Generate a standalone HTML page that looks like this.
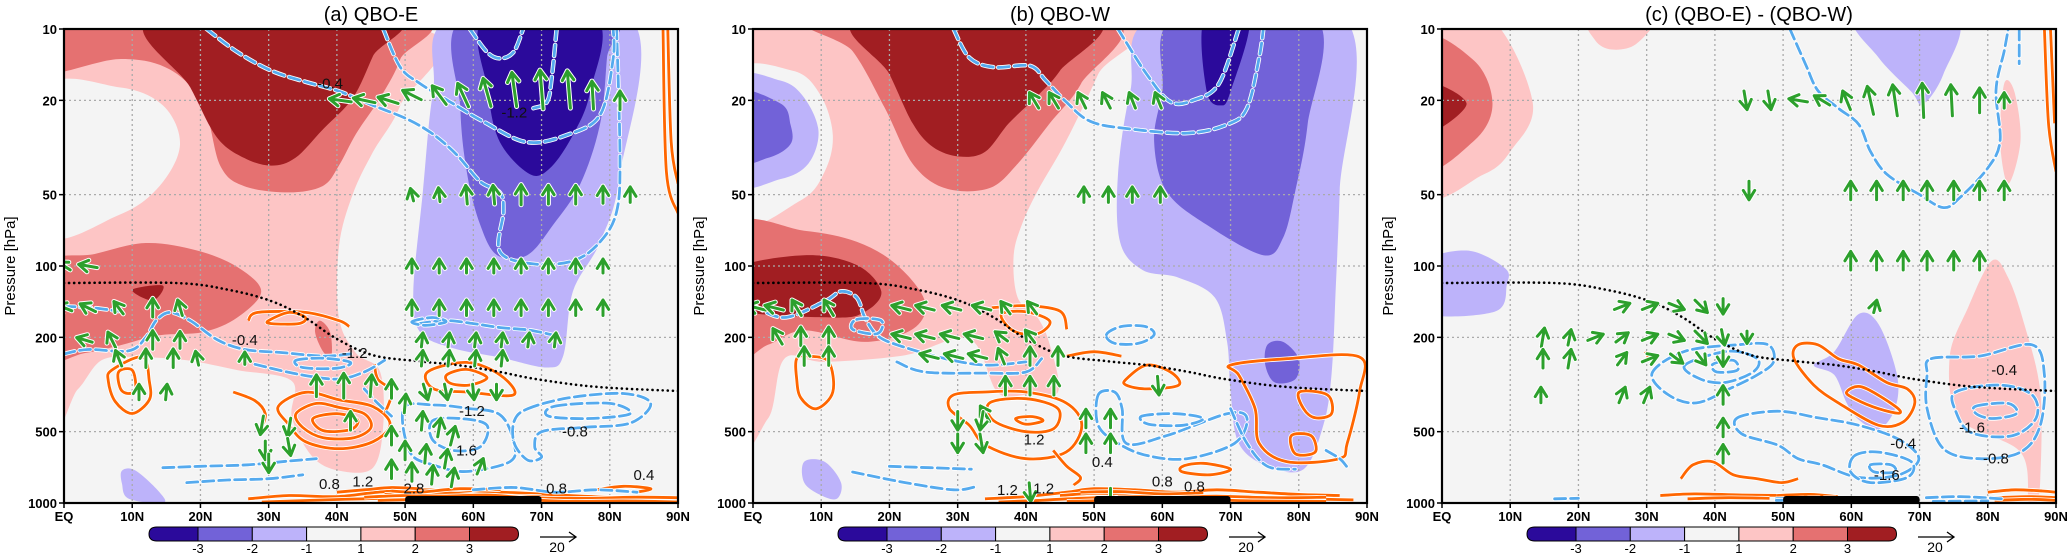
<!DOCTYPE html>
<html><head><meta charset="utf-8"><title>QBO composites</title>
<style>
html,body{margin:0;padding:0;background:#fff;}
svg{display:block;font-family:"Liberation Sans",sans-serif;}
</style></head>
<body>
<svg id="chart" width="2067" height="554" viewBox="0 0 2067 554" xmlns="http://www.w3.org/2000/svg">
<defs>
<clipPath id="clipA"><rect x="64" y="29" width="614" height="474"/></clipPath>
<clipPath id="clipB"><rect x="753" y="29" width="614" height="474"/></clipPath>
<clipPath id="clipC"><rect x="1442" y="29" width="614" height="474"/></clipPath>
</defs>
</svg>
<script>
// ---------- axes data ----------
const latTicks=[0,10,20,30,40,50,60,70,80,90];
const latTickLabels=['EQ','10N','20N','30N','40N','50N','60N','70N','80N','90N'];
const presTicks=[10,20,50,100,200,500,1000];
const presTickLabels=['10','20','50','100','200','500','1000'];
const panelTitles=['(a) QBO-E','(b) QBO-W','(c) (QBO-E) - (QBO-W)'];
const cbarLabels=['-3','-2','-1','1','2','3'];
const cbarColors=['#2b0a9b','#7262d8','#bdb3fa','#f4f4f4','#fdc5c5','#e57171','#a11e22'];
const tropLat=[0,16.4,24.1,30.5,35.3,40,45.3,51.8,57.7,63.6,69.5,78.3,90];
const tropPres=[118,118,126,141,165,203,238,252,262,279,301,324,337];
const sigBar=[50,70];

// ---------- filled contours [lat, hPa] ----------
const fillsA=[
 {c:4,pts:[[0,10],[52.3,10],[49.3,21],[45.3,33],[42.3,50],[40.3,83],[40.3,165],[42.8,233],[46.3,278],[46.8,465],[45.3,710],[40.3,730],[36.4,637],[33.4,437],[33.4,306],[25.4,275],[18,250],[10.5,242],[5.5,250],[2,332],[-2,405]]},
 {c:3,pts:[[-3,18.3],[8,17.6],[14.5,21],[17,30.7],[14,46],[8,61],[-3,72]]},
 {c:5,pts:[[-3,10],[-3,15.3],[8,13.4],[15.5,14.8],[20.4,21],[22.9,37.7],[26.4,46],[32.9,48.9],[37.9,46],[40.3,37.7],[42.8,27.7],[46.3,19.6],[49.3,13.4],[50.3,9]]},
 {c:6,pts:[[13,9],[18.5,17.6],[22.4,28.6],[26.4,35],[30.4,37.7],[33.9,35],[37.9,26.6],[42.3,19.6],[45.3,13],[47.8,9]]},
 {c:5,pts:[[-3,101],[4.5,89],[12,80],[19.5,86],[25.4,101],[28.9,128],[25.4,165],[20.4,190],[14,196],[8,217],[3,233],[-3,242]]},
 {c:6,pts:[[10,126],[14.5,121],[13,140]]},
 {c:5,pts:[[37.5,170],[39,190],[39.2,240],[38,230],[36.8,190]]},
 {c:2,pts:[[56.9,9],[54.1,18.4],[52.6,48.8],[51.2,128],[52.2,190],[57,222],[63.9,243],[70.8,268],[73.2,238],[74.6,128],[78.6,79],[81.5,41],[83,9]]},
 {c:1,pts:[[58.5,9],[58.1,21.6],[59.1,41],[61,67],[63.5,90],[67.9,90],[71.7,67],[75.7,45],[78.6,25],[79.6,13.2],[80.1,9]]},
 {c:0,pts:[[61.7,9],[62.2,18.5],[63.9,30],[68.3,41],[71.3,38.5],[74.6,28],[77.1,18.5],[77.9,9]]},
 {c:2,pts:[[8.5,730],[10.5,730],[14,900],[14.5,1000],[9.5,960],[8.5,830]]}
];
const fillsB=[
 {c:4,pts:[[-3,9],[54.1,9],[50.6,15.5],[45.9,29.7],[41.7,48.3],[39.4,67],[38.2,91],[38.8,136],[41.7,165],[43.5,215],[44.7,340],[40,350],[35.8,340],[31.7,203],[22.3,238],[10.5,254],[4.6,246],[2.2,440],[-3,455]]},
 {c:3,pts:[[-3,16],[5.8,15],[9.9,19],[11.7,28],[10.5,40],[6.9,53],[-3,65]]},
 {c:2,pts:[[-3,16.5],[4,16.5],[7.5,19.5],[9.6,27],[8.1,37],[4,43],[-3,44]]},
 {c:1,pts:[[-3,18.5],[4,20.6],[5.5,25.3],[5.5,30.6],[2.2,35],[-3,36]]},
 {c:5,pts:[[9.3,9],[14.6,12.4],[19.3,21.5],[23.4,37],[28.2,47],[34.6,47],[38.8,37],[43.5,25],[48.1,17],[52,9]]},
 {c:6,pts:[[15.8,9],[20,15.5],[23.4,25],[26.4,31.5],[30.2,34.5],[34,33],[37.5,25],[41.8,19],[45,15],[49.9,9]]},
 {c:5,pts:[[-3,69],[7.5,71],[15.2,79],[21.1,99],[25.2,141],[23.5,184],[16.4,209],[7.5,187],[2.2,215],[-3,238]]},
 {c:6,pts:[[-3,104],[7.5,90],[15.2,99],[18.8,128],[16.4,156],[11.7,165],[-3,151]]},
 {c:2,pts:[[58.8,9],[55.3,18.3],[53.5,41],[53.8,79],[57.1,104],[62.4,112],[67.7,136],[69.5,209],[70,340],[71.2,560],[75.4,700],[80.7,720],[83.6,470],[84.8,288],[85.4,128],[86,48],[86.6,9]]},
 {c:1,pts:[[61.8,9],[60,18.3],[58.8,29.6],[60.6,48.3],[66.5,67],[74.8,90],[77.7,76],[79.5,48],[81.3,25.3],[82.4,9]]},
 {c:0,pts:[[66.2,9],[66.5,18.3],[68.6,21],[70,18.3],[72.7,9]]},
 {c:1,pts:[[75.4,215],[77.7,209],[80,246],[79.5,300],[76.5,310],[75.1,262]]},
 {c:2,pts:[[7.5,670],[10.5,670],[12.9,820],[12.3,960],[9.9,925],[7.5,820]]}
];
const fillsC=[
 {c:4,pts:[[-3,9],[7.1,9],[13.3,20.4],[10.1,32.6],[6,41.2],[-3,47.7]]},
 {c:5,pts:[[-3,11.2],[4.7,13.6],[7.4,20.7],[4.7,29.6],[-3,38]]},
 {c:6,pts:[[-3,16.8],[3.6,20.7],[-3,28]]},
 {c:4,pts:[[21.6,9],[30.8,9],[28.4,11.6],[24.9,12.2],[22.5,11.2]]},
 {c:4,pts:[[80.6,95],[83,112],[85.4,178],[87.7,340],[87.7,790],[87.1,1000],[86,1000],[84.8,610],[75.9,440],[74.4,244],[77.1,150]]},
 {c:4,pts:[[82.4,17],[83.9,18.4],[84.8,29.6],[83,45],[81.8,29.6]]},
 {c:2,pts:[[60.8,9],[75.3,9],[73.5,15.5],[70.5,20.8],[68.8,18.4],[64,13.2]]},
 {c:2,pts:[[-3,98.6],[3.6,86],[9.2,102],[9.5,120],[7.7,156],[-3,156]]},
 {c:2,pts:[[61,160],[64,176],[66.7,288],[66.4,400],[64,488],[61,443],[59.3,378],[57.5,288],[54.5,262],[57.5,230]]}
];

// ---------- line contours [lat, hPa] ----------
const blueA=[
 {z:0,pts:[[20.9,10],[25.4,12.5],[30.4,15],[35.4,16.7],[40.3,18.3],[45.3,21],[50.3,24],[54.1,27.8],[57.6,34],[61,44],[63.9,49],[64.4,59],[63.9,87],[68.8,98],[74.7,95],[78.6,79],[81,59],[81.5,35],[81,10]]},
 {z:0,pts:[[46.8,10],[49.3,14.5],[52.2,17],[56.6,20.3],[61.5,24.6],[67.8,30],[73.7,28],[78.6,23],[80.5,13.3],[80.5,10]]},
 {z:0,pts:[[59.5,10],[62,12.5],[63.9,13.3],[65.9,12.5],[67.3,10]]},
 {z:0,pts:[[72.2,10],[71.5,16],[70.8,20.3],[68.8,21.6]]},
 {z:0,pts:[[0,235],[3.5,225],[9.5,228],[12,200],[13.5,170],[15.5,157],[18.5,170],[22.5,205],[26.5,225],[32,232],[38,240],[42,235]]},
 {z:0,pts:[[0,148],[4,150],[8,155]]},
 {z:1,pts:[[49.8,398],[54.2,386],[59,398],[63.9,424],[65.9,551],[65.4,668],[59,736],[54.2,692],[50.7,610]]},
 {z:1,pts:[[54,450],[58,440],[62,470],[61,580],[57,600],[54,540]]},
 {z:1,pts:[[68,400],[74,360],[82,345],[86,380],[83,460],[76,480],[70,500],[69,580],[70,640],[68,660],[66,560],[66,450]]},
 {z:1,pts:[[72,390],[80,380],[83,420],[77,440],[71,430]]},
 {z:0,pts:[[14.5,710],[20,700],[27,690],[33,665],[37,650]]},
 {z:0,pts:[[18,820],[24,800],[30,790],[35,760]]},
 {z:0,pts:[[28,260],[34,285],[40,300],[44,280],[47,250]]},
 {z:1,pts:[[34,250],[38,245],[42,255],[40,270],[35,268]]},
 {z:0,pts:[[60,880],[66,860],[72,900],[78,880],[84,900]]},
 {z:0,pts:[[44,330],[46,380],[48,430]]},
 {z:0,pts:[[52,175],[56,170],[60,175],[64,182],[68,186],[71.5,195]]},
 {z:1,pts:[[51,172],[54,165],[56,172],[53,178]]}
];
const orangeA=[
 {z:1,pts:[[7,275],[11.5,242],[12.5,306],[12.5,367],[10,419],[7.5,373],[6.5,306]]},
 {z:1,pts:[[8,280],[10,275],[10.5,330],[9.5,345],[8.3,330]]},
 {z:1,pts:[[31.4,392],[35.4,341],[40.3,367],[45.3,392],[47.8,465],[45.3,551],[40.3,590],[35.4,551],[32.9,465]]},
 {z:1,pts:[[34,420],[37,380],[40.3,395],[44,420],[45,480],[42.5,530],[38,530],[35,480]]},
 {z:1,pts:[[36.5,440],[40,420],[43,445],[42,490],[38,495]]},
 {z:0,pts:[[27,170],[28.4,157],[35.4,157],[40.3,170],[41.8,180]]},
 {z:1,pts:[[30,170],[33,157],[35.4,165],[34.4,175],[30.4,175]]},
 {z:1,pts:[[53.3,280],[59,255],[63.9,288],[65.9,350],[59,340],[54.2,330]]},
 {z:1,pts:[[56.1,288],[59,273],[62,296],[59.4,318],[56.6,312]]},
 {z:0,pts:[[27,960],[33,930],[40,940],[46,900],[52,880],[58,890],[66,905],[74,930],[82,950],[90,960]]},
 {z:0,pts:[[29,990],[36,975],[44,960],[52,950],[62,960],[70,975],[80,965],[90,975]]},
 {z:0,pts:[[40,900],[44,880],[48,860],[52,870]]},
 {z:0,pts:[[47,920],[55,905],[63,930],[70,940]]},
 {z:0,pts:[[44,945],[50,930],[56,935],[62,925],[68,950],[76,955],[84,945],[90,950]]},
 {z:0,pts:[[46,975],[54,965],[60,980],[66,965],[74,985],[82,980],[90,990]]},
 {z:0,pts:[[48,890],[52,900],[58,870],[64,880]]},
 {z:0,pts:[[78,880],[82,850],[86,870],[84,900]]},
 {z:0,pts:[[24.8,340],[28,370],[29.5,420],[29,480]]},
 {z:0,pts:[[88.5,10],[89,30],[90,45]]},
 {z:0,pts:[[87.8,10],[88.3,40],[90,60]]},
 {z:0,pts:[[45.5,260],[46,300],[48,340],[47,420]]}
];
const blueB=[
 {z:0,pts:[[29.4,10],[31.7,13.2],[35.3,14.5],[40.6,14.3],[42.9,16.5],[45.9,20.3],[49.4,24.5],[54.7,26.3],[63.6,27.5],[69.5,25.3],[72.4,21.6],[74.2,13.2],[74.8,10]]},
 {z:0,pts:[[53.5,10],[57.7,15.5],[61.2,20.3],[64.7,19.9],[68.3,17],[71.2,10]]},
 {z:0,pts:[[0,146],[4.6,165],[10.5,141],[12.9,128],[15.2,136],[16.4,165],[18.2,196],[21.1,215],[28.2,246],[34.1,262],[40,254]]},
 {z:1,pts:[[15.2,168],[18.8,170],[18.2,193],[14.6,185]]},
 {z:0,pts:[[21.1,254],[25.2,280],[34.1,283],[40,280],[42.3,246]]},
 {z:1,pts:[[51.8,195],[54,180],[57.5,180],[58.8,195],[56.5,212],[53,212]]},
 {z:1,pts:[[50.6,350],[53,340],[54.1,400],[54.7,560],[60.6,520],[69.5,420],[72.4,437],[70.6,560],[63.6,650],[57.7,630],[53.5,560],[50.6,470]]},
 {z:1,pts:[[57,430],[62,420],[66,440],[63,470],[58,465]]},
 {z:0,pts:[[14.6,740],[22.3,820],[29.4,880],[32.9,850]]},
 {z:0,pts:[[20,700],[26,710],[32,720]]},
 {z:0,pts:[[70,400],[72.4,560],[75.4,700],[79.5,720]]},
 {z:0,pts:[[84,600],[86,650],[87,700]]}
];
const orangeB=[
 {z:1,pts:[[6.4,246],[8.1,240],[11.1,254],[11.7,340],[9.3,400],[7,360],[6.4,300]]},
 {z:1,pts:[[29.4,350],[34.1,340],[40,340],[45.9,378],[48.2,470],[45.9,610],[40,650],[34.1,570],[31.7,470],[28.8,400]]},
 {z:1,pts:[[34.7,378],[40,363],[44.7,400],[44.1,485],[40,500],[35.3,450]]},
 {z:1,pts:[[38.5,440],[41,432],[42.5,450],[40,465]]},
 {z:1,pts:[[36.4,160],[40,156],[43.5,171],[41.7,193],[38.2,188]]},
 {z:0,pts:[[35,150],[40,147],[45,155],[46,185]]},
 {z:1,pts:[[54.7,300],[57.7,262],[61.2,280],[62.4,318],[57.7,330],[54.7,318]]},
 {z:0,pts:[[46,240],[50,230],[54,240]]},
 {z:1,pts:[[70,262],[78.3,246],[88.9,242],[88.9,340],[87.1,560],[85.9,650],[78.3,670],[74.2,560],[73.6,400],[71.2,288]]},
 {z:1,pts:[[80.1,340],[84.2,350],[84.8,420],[82.4,437],[80.7,400]]},
 {z:1,pts:[[78.9,520],[81.8,520],[82.4,610],[79.5,620]]},
 {z:0,pts:[[34,960],[40,940],[46,900],[50,870],[56,880],[62,900],[68,880],[74,900],[80,920],[86,930]]},
 {z:0,pts:[[36,990],[44,970],[52,950],[60,960],[70,955],[80,960],[88,970]]},
 {z:0,pts:[[45,930],[50,910],[55,920],[60,930]]},
 {z:0,pts:[[42,975],[48,955],[56,940],[62,945],[68,935],[76,950],[84,945]]},
 {z:0,pts:[[46,985],[54,975],[60,985],[66,970],[74,980],[84,985]]},
 {z:0,pts:[[48,900],[54,895],[60,915],[66,905]]},
 {z:0,pts:[[44,600],[46,700],[48,780],[47,840]]},
 {z:1,pts:[[63,700],[66,680],[70,720],[67,760],[63,740]]}
];
const blueC=[
 {z:0,pts:[[51,10],[53.3,14.1],[55.1,18.2],[58.1,21.6],[61.1,25.3],[62.8,32.8],[65.2,41],[69.9,49.8],[73.5,56.7],[75.9,51.5],[80,38.6],[81.8,29.6],[81.2,18.2],[82.4,12.4],[83,10]]},
 {z:0,pts:[[84.6,10],[84.6,14]]},
 {z:1,pts:[[30.8,283],[35.6,229],[43.3,215],[47.8,215],[48.6,254],[46.2,288],[42.1,330],[37.3,378],[33.2,350]]},
 {z:1,pts:[[35.6,262],[41.9,229],[46.2,246],[45.6,280],[41.5,310],[37.9,300]]},
 {z:1,pts:[[39.7,260],[42.7,250],[43.3,275],[40.3,280]]},
 {z:1,pts:[[43.3,437],[49.2,410],[55.1,437],[61.1,470],[67,540],[69.9,650],[67,760],[61.1,780],[55.7,690],[52.2,650],[49.2,570],[43.9,510]]},
 {z:1,pts:[[60.5,631],[64,610],[68.8,670],[68.2,780],[62.8,820],[59.9,740]]},
 {z:1,pts:[[62.8,690],[65.8,690],[66.4,740],[63.4,740]]},
 {z:1,pts:[[71.7,246],[78.8,240],[86.5,215],[88.3,288],[87.7,470],[84.8,610],[78.8,650],[73.5,590],[71.1,400],[71.1,288]]},
 {z:1,pts:[[75.3,340],[81.8,318],[86.5,350],[87.1,437],[83.6,520],[77.6,505],[75.3,410]]},
 {z:1,pts:[[78.3,390],[83,380],[84.2,420],[80.7,440],[78.3,420]]},
 {z:0,pts:[[49,960],[55,950],[62,955],[70,960]]},
 {z:0,pts:[[50,985],[58,980],[66,985]]},
 {z:0,pts:[[49,975],[56,968],[63,972],[69,970]]},
 {z:0,pts:[[71,950],[76,940],[82,960]]},
 {z:0,pts:[[72,985],[80,980]]},
 {z:0,pts:[[16.5,960],[20,955]]}
];
const orangeC=[
 {z:1,pts:[[52.2,215],[55.1,215],[58.1,246],[61.1,262],[65.2,310],[68.2,330],[69.3,378],[67.6,455],[64,470],[58.1,378],[54.5,318],[51.6,246]]},
 {z:1,pts:[[59.3,340],[61.6,324],[66.4,390],[67,418],[64,400],[60.5,363]]},
 {z:0,pts:[[35,790],[36.8,690],[39.7,670],[42.7,760],[46.2,790],[49.8,820],[52.2,790]]},
 {z:0,pts:[[32,930],[37,915],[44,925],[52,930]]},
 {z:0,pts:[[36,960],[42,950],[48,955]]},
 {z:0,pts:[[88.3,10],[88.9,25],[90,40]]},
 {z:0,pts:[[89.2,10],[89.8,25]]},
 {z:0,pts:[[80,900],[84,880],[88,890],[90,900]]},
 {z:0,pts:[[81,950],[86,940],[90,950]]},
 {z:0,pts:[[81,975],[86,965],[90,975]]},
 {z:0,pts:[[29.8,230],[30.5,250]]},
 {z:0,pts:[[49,930],[54,920],[58,940]]}
];

// ---------- contour labels ----------
const labelsA=[['-0.4',39,17],['-1.2',66,22.5],['-0.4',26.5,205],['-1.2',42.6,233],['-1.2',59.8,410],['-0.8',74.9,500],['1.6',59,600],['0.8',38.9,830],['1.2',43.8,810],['2.8',51.3,870],['0.8',72.2,870],['0.4',85,760]];
const labelsB=[['1.2',41.2,540],['0.4',51.2,670],['1.2',37.3,880],['1.2',42.6,870],['0.8',60,810],['0.8',64.7,850]];
const labelsC=[['-0.4',82.4,275],['-1.6',77.7,480],['-0.4',67.6,560],['-0.8',81.2,650],['-1.6',65.2,760]];

// ---------- EP-flux vectors: lat, hPa, u, v ----------
const arrowsA=[
 [40.5,20,-14,2],[44,20,-14,3],[47.5,20,-13,4],[51,19,-12,6],[55,19,-9,12],[58.5,19,-7,15],[62,18.5,-5,18],[66,18,-3,22],[70,18,-2,25],[74,18,-2,24],[77.5,19,-1,18],[81.5,20,0,12],
 [51,50,-2,8],[55,50,-1,9],[59,50,-1,12],[63,50,-1,12],[67,50,0,13],[71,50,0,12],[75,50,0,12],[79,50,0,11],[83,50,0,10],
 [0,100,-8,5],[3.5,100,-12,2],[51,100,0,9],[55,100,0,9],[59,100,0,9],[63,100,0,9],[67,100,0,9],[71,100,0,9],[75,100,0,9],[79,100,0,9],
 [0,150,-10,4],[3.5,150,-10,5],[8,150,-6,8],[13,150,0,12],[17,150,-3,10],[51,150,0,10],[55,150,0,10],[59,150,0,10],[63,150,0,10],[67,150,0,10],[71,150,0,10],[75,150,0,10],[79,150,0,10],
 [3,205,-10,3],[7,205,-5,10],[13,205,0,12],[17,205,0,11],[52.5,205,1,9],[56.4,205,1,9],[60.3,205,1,9],[64.2,205,1,9],[68.1,205,1,9],[72,205,1,9],
 [8,245,-4,10],[12,245,0,12],[16,245,0,12],[19.5,245,-2,9],[26.5,245,0,8],[52.5,245,1,10],[56.4,245,1,10],[60.3,245,1,10],[64.2,245,1,10],
 [11,340,0,10],[15,340,1,10],[37,320,0,14],[41,320,0,16],[45,320,1,14],[53,340,3,-10],[56,340,2,-10],[60,340,1,-10],[63.4,340,0,-10],
 [42,450,0,12],[29,470,-2,-12],[33,480,-2,-12],[29.5,600,0,-12],[33,580,2,-11],[30,680,0,-12],
 [48,330,0,12],[50,380,1,12],[52.5,450,1,12],[55,480,2,12],[57,520,3,12],[48,520,0,12],[50,600,0,12],[53,620,1,12],[56,650,2,12],[48,720,0,12],[51,740,0,12],[54,760,1,12],[57,780,2,12],[61,700,4,10]
];
const arrowsB=[
 [41.2,20,-6,10],[44.1,20,-6,10],[48.2,20,-5,10],[51.8,20,-5,10],[55.6,20,-4,10],[59.4,20,-4,10],
 [48.5,50,0,10],[52.1,50,0,10],[55.6,50,0,10],[59.7,50,0,10],
 [0.5,150,-12,3],[3.1,150,-12,3],[6.4,150,-6,10],[11.1,150,-6,10],[21.7,150,-12,3],[25.2,150,-12,3],[29.1,150,-12,3],[33.5,150,-12,3],[37,150,-6,8],[40.9,150,-6,8],
 [3.6,198,-6,10],[7,198,0,12],[11.1,198,0,12],[21.7,198,-12,3],[25.2,198,-12,3],[28.8,198,-12,3],[32.3,198,-12,3],[36.4,198,-8,6],[40.6,198,-6,8],
 [7.5,240,0,12],[11.1,240,0,12],[25.8,240,-12,3],[29.4,240,-12,3],[32.9,240,-12,3],[36.4,240,-4,10],[40.6,240,0,12],[44.7,240,0,12],
 [37,320,0,12],[40.6,320,0,12],[44.1,320,0,12],[59.4,320,1,-12],[34,420,-6,10],
 [30,450,0,-12],[33.5,450,-2,-12],[30,560,0,-12],[33.5,560,2,-12],[48.8,440,0,12],[52.4,440,0,12],[48.8,560,0,12],[52.4,560,0,12],[40.6,900,1,-12],[52.4,950,0,-12]
];
const arrowsC=[
 [44.5,20,2,-12],[48,20,2,-12],[52.2,20,-12,2],[55.7,20,-10,6],[59.3,20,-5,12],[62.8,20,-4,18],[66.4,20,-3,20],[70.5,20,-1,22],[74.7,20,-1,20],[78.8,20,0,16],[82.4,20,0,10],
 [45,48,0,-12],[59.9,48,0,12],[63.7,48,0,12],[67.6,48,0,12],[71.1,48,0,12],[75,48,0,12],[78.8,48,0,12],[82.4,48,0,12],
 [59.9,95,0,12],[63.7,95,0,12],[67.6,95,0,12],[71.1,95,0,12],[75,95,0,12],[78.8,95,0,12],
 [26.4,148,10,4],[30.5,148,10,4],[34.4,148,10,-4],[38,148,8,-8],[41.2,148,0,-10],[63.5,148,2,8],
 [14.8,200,2,12],[18.7,200,2,10],[22.5,200,10,4],[26.4,200,8,6],[30.5,200,10,4],[34.4,200,10,-4],[38,200,8,-8],[41.2,200,2,-10],[44.7,200,0,-8],
 [14.8,246,0,12],[18.7,246,2,12],[26.4,246,6,8],[30.5,246,10,4],[34.4,246,8,-6],[38,246,6,-8],[41.2,246,0,-10],
 [14.5,350,0,10],[26.4,350,4,10],[30,350,4,10],[41.2,350,0,12],[41.2,480,0,12],[41.2,620,0,12]
];

// ---------- layout ----------
const SVGNS='http://www.w3.org/2000/svg';
const svg=document.getElementById('chart');
const PX0=[64,753,1442], W=614, TOP=29, H=474, BOT=TOP+H;
const COLORS=cbarColors;
const ARROW_SCALE=1.55;
function X(pi,lat){return PX0[pi]+lat/90*W;}
function Y(p){return TOP+(Math.log10(p)-1)/2*H;}
function el(tag,attrs,parent){const e=document.createElementNS(SVGNS,tag);for(const k in attrs)e.setAttribute(k,attrs[k]);(parent||svg).appendChild(e);return e;}
function smooth(pi,pts,closed){
  const P=pts.map(q=>[X(pi,q[0]),Y(q[1])]);const n=P.length;
  if(n<3){return 'M'+P.map(q=>q[0].toFixed(1)+','+q[1].toFixed(1)).join('L')+(closed?'Z':'');}
  const g=i=>closed?P[(i+n)%n]:P[Math.max(0,Math.min(n-1,i))];
  let d='M'+P[0][0].toFixed(1)+','+P[0][1].toFixed(1);
  const last=closed?n:n-1;
  for(let i=0;i<last;i++){const p0=g(i-1),p1=g(i),p2=g(i+1),p3=g(i+2);
    const c1=[p1[0]+(p2[0]-p0[0])/6,p1[1]+(p2[1]-p0[1])/6],c2=[p2[0]-(p3[0]-p1[0])/6,p2[1]-(p3[1]-p1[1])/6];
    d+='C'+c1[0].toFixed(1)+','+c1[1].toFixed(1)+' '+c2[0].toFixed(1)+','+c2[1].toFixed(1)+' '+p2[0].toFixed(1)+','+p2[1].toFixed(1);}
  return d+(closed?'Z':'');
}
const fills=[fillsA,fillsB,fillsC], blues=[blueA,blueB,blueC], oranges=[orangeA,orangeB,orangeC];
const labels=[labelsA,labelsB,labelsC], arrows=[arrowsA,arrowsB,arrowsC];
const clips=['clipA','clipB','clipC'], keys=['a','b','c'];

for(let pi=0;pi<3;pi++){
  const x0=PX0[pi];
  const g=el('g',{});
  
  
  const t=el('text',{x:x0+W/2,y:21,'text-anchor':'middle','font-size':20,fill:'#000'},g);
  t.textContent=panelTitles[pi];
  
  
  const pg=el('g',{'clip-path':'url(#'+clips[pi]+')'},g);
  
  
  const bg=el('rect',{x:x0,y:TOP,width:W,height:H,fill:COLORS[3]},pg);
  
  
  fills[pi].forEach(f=>{
    const e=el('path',{d:smooth(pi,f.pts,true),fill:COLORS[f.c]},pg);
    
    
  });
  latTicks.slice(1,-1).forEach(l=>{
    const e=el('line',{x1:X(pi,l),x2:X(pi,l),y1:TOP,y2:BOT,stroke:'#aaa','stroke-width':1.3,'stroke-dasharray':'2,3'},pg);
    
    
  });
  presTicks.slice(1,-1).forEach(p=>{
    const e=el('line',{x1:x0,x2:x0+W,y1:Y(p),y2:Y(p),stroke:'#aaa','stroke-width':1.3,'stroke-dasharray':'2,3'},pg);
    
    
  });
  oranges[pi].forEach(c=>{
    const d=smooth(pi,c.pts,!!c.z);
    const h=el('path',{d:d,fill:'none',stroke:'#fff','stroke-width':4.5,'stroke-linejoin':'round'},pg);
    
    
    const e=el('path',{d:d,fill:'none',stroke:'#ff6600','stroke-width':2.8,'stroke-linejoin':'round'},pg);
    
    
  });
  blues[pi].forEach(c=>{
    const d=smooth(pi,c.pts,!!c.z);
    const h=el('path',{d:d,fill:'none',stroke:'#fff','stroke-width':4.5,'stroke-dasharray':'11,5','stroke-linecap':'round'},pg);
    
    
    const e=el('path',{d:d,fill:'none',stroke:'#55aaee','stroke-width':2.8,'stroke-dasharray':'11,5','stroke-linecap':'round'},pg);
    
    
  });
  const tp=tropLat.map((l,i)=>[l,tropPres[i]]);
  const tr=el('path',{d:smooth(pi,tp,false),fill:'none',stroke:'#000','stroke-width':2.6,'stroke-dasharray':'0.1,5','stroke-linecap':'round'},pg);
  
  
  arrows[pi].forEach(a=>{
    const cx=X(pi,a[0]),cy=Y(a[1]),u=a[2]*ARROW_SCALE,v=a[3]*ARROW_SCALE;
    const tx=cx+u/2,ty=cy-v/2,bx=cx-u/2,by=cy+v/2;
    const ang=Math.atan2(ty-by,tx-bx),hl=11;
    const h1=[tx-hl*Math.cos(ang-0.55),ty-hl*Math.sin(ang-0.55)],h2=[tx-hl*Math.cos(ang+0.55),ty-hl*Math.sin(ang+0.55)];
    const d='M'+bx.toFixed(1)+','+by.toFixed(1)+'L'+tx.toFixed(1)+','+ty.toFixed(1)+'M'+h1[0].toFixed(1)+','+h1[1].toFixed(1)+'L'+tx.toFixed(1)+','+ty.toFixed(1)+'L'+h2[0].toFixed(1)+','+h2[1].toFixed(1);
    const ag=el('g',{},pg);
    
    
    el('path',{d:d,fill:'none',stroke:'#fff','stroke-width':5,'stroke-linecap':'round','stroke-linejoin':'round'},ag);
    el('path',{d:d,fill:'none',stroke:'#2ca02c','stroke-width':3,'stroke-linecap':'round','stroke-linejoin':'round'},ag);
  });
  labels[pi].forEach(l=>{
    const e=el('text',{x:X(pi,l[1]),y:Y(l[2])+5,'text-anchor':'middle','font-size':15,fill:'#111'},pg);
    e.textContent=l[0];
    
    
  });
  const sb=el('rect',{x:X(pi,sigBar[0]),y:BOT-7,width:X(pi,sigBar[1])-X(pi,sigBar[0]),height:8,rx:3,fill:'#000'},g);
  
  
  const fr=el('rect',{x:x0,y:TOP,width:W,height:H,fill:'none',stroke:'#000','stroke-width':2.2},g);
  
  
  latTicks.forEach((l,i)=>{
    el('line',{x1:X(pi,l),x2:X(pi,l),y1:BOT,y2:BOT+5,stroke:'#000','stroke-width':1.5},g);
    const e=el('text',{x:X(pi,l),y:BOT+18,'text-anchor':'middle','font-size':13,'font-weight':'bold',fill:'#000'},g);
    e.textContent=latTickLabels[i];
    
    
  });
  presTicks.forEach((p,i)=>{
    el('line',{x1:x0-5,x2:x0,y1:Y(p),y2:Y(p),stroke:'#000','stroke-width':1.5},g);
    const e=el('text',{x:x0-7,y:Y(p)+5,'text-anchor':'end','font-size':13,'font-weight':'bold',fill:'#000'},g);
    e.textContent=presTickLabels[i];
    
    
  });
  const yl=el('text',{x:0,y:0,'text-anchor':'middle','font-size':15,fill:'#000',transform:'translate('+(x0-49)+','+(TOP+H/2)+') rotate(-90)'},g);
  yl.textContent='Pressure [hPa]';
  
  
  const cb=el('g',{},g);
  
  
  const cl=x0+85, seg=54.3, cy0=527, ch=14;
  const inner=cl+49;
  el('path',{d:'M'+inner+','+cy0+'H'+(cl+8)+'Q'+cl+','+cy0+' '+cl+','+(cy0+ch/2)+'Q'+cl+','+(cy0+ch)+' '+(cl+8)+','+(cy0+ch)+'H'+inner+'Z',fill:COLORS[0],stroke:'#000','stroke-width':1},cb);
  for(let k=1;k<6;k++){
    el('rect',{x:inner+(k-1)*seg,y:cy0,width:seg,height:ch,fill:COLORS[k],stroke:'#000','stroke-width':1},cb);
  }
  const r0=inner+5*seg, re=r0+49;
  el('path',{d:'M'+r0+','+cy0+'H'+(re-8)+'Q'+re+','+cy0+' '+re+','+(cy0+ch/2)+'Q'+re+','+(cy0+ch)+' '+(re-8)+','+(cy0+ch)+'H'+r0+'Z',fill:COLORS[6],stroke:'#000','stroke-width':1},cb);
  cbarLabels.forEach((s,k)=>{
    const e=el('text',{x:inner+k*seg,y:553,'text-anchor':'middle','font-size':13,fill:'#000'},cb);
    e.textContent=s;
    
    
  });
  const ra=el('g',{},g);
  
  
  const ax=x0+476, ay=537;
  el('path',{d:'M'+ax+','+ay+'H'+(ax+36)+'M'+(ax+29)+','+(ay-5)+'L'+(ax+36)+','+ay+'L'+(ax+29)+','+(ay+5),fill:'none',stroke:'#000','stroke-width':1.3},ra);
  const rt=el('text',{x:ax+17,y:552,'text-anchor':'middle','font-size':14,fill:'#000'},ra);
  rt.textContent='20';
}
</script>
</body></html>
